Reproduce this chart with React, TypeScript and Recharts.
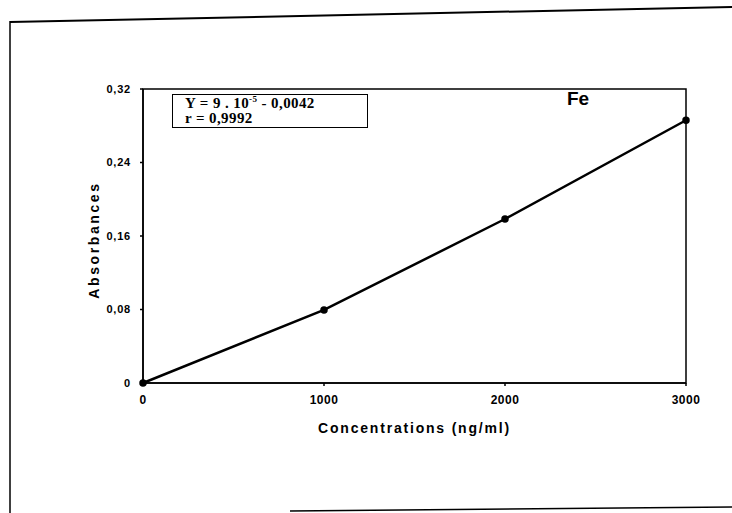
import { LineChart, Line, XAxis, YAxis, ReferenceArea, Label } from 'recharts';

// Fe calibration curve
const concentrations = [0, 1000, 2000, 3000];
const absorbances = [0, 0.0795, 0.1785, 0.286];
const xTicks = [0, 1000, 2000, 3000];
const yTicks = [0, 0.08, 0.16, 0.24, 0.32];

const data = concentrations.map((c, i) => ({ conc: c, abs: absorbances[i] }));

const font = 'Arial, "Liberation Sans", sans-serif';

const fmtY = (v: number) => (v === 0 ? '0' : v.toFixed(2).replace('.', ','));

export default function App() {
  return (
    <div style={{ position: 'absolute', left: 0, top: 0, width: 732, height: 513, background: '#fff', overflow: 'hidden' }}>
      {/* scanned page frame */}
      <svg width={732} height={513} style={{ position: 'absolute', left: 0, top: 0 }}>
        <line x1={10} y1={22} x2={732} y2={7} stroke="#000" strokeWidth={2} />
        <line x1={10} y1={21} x2={10} y2={513} stroke="#000" strokeWidth={1.5} />
        <line x1={290} y1={511} x2={732} y2={507} stroke="#000" strokeWidth={1.5} />
      </svg>
      <LineChart
        width={732}
        height={513}
        data={data}
        margin={{ top: 89, right: 46, bottom: 100, left: 83 }}
        style={{ position: 'absolute', left: 0, top: 0 }}
      >
        <XAxis
          dataKey="conc"
          type="number"
          domain={[0, 3000]}
          ticks={xTicks}
          height={30}
          tickSize={3}
          stroke="#000"
          strokeWidth={1.5}
          tick={{ fill: '#000', fontSize: 12, fontWeight: 700, fontFamily: font, letterSpacing: 0.5 }}
          tickMargin={9}
        >
          <Label
            value="Concentrations (ng/ml)"
            position="bottom"
            offset={10}
            style={{ fill: '#000', fontSize: 14, fontWeight: 700, fontFamily: font, letterSpacing: 1.8 }}
          />
        </XAxis>
        <YAxis
          type="number"
          domain={[0, 0.32]}
          ticks={yTicks}
          width={60}
          tickSize={3}
          stroke="#000"
          strokeWidth={1.5}
          tickFormatter={fmtY}
          tick={{ fill: '#000', fontSize: 11, fontWeight: 700, fontFamily: font, letterSpacing: 0.8 }}
          tickMargin={9}
        >
          <Label
            value="Absorbances"
            angle={-90}
            position="insideLeft"
            offset={11}
            dy={4}
            style={{ fill: '#000', fontSize: 14, fontWeight: 700, fontFamily: font, letterSpacing: 2.6, textAnchor: 'middle' }}
          />
        </YAxis>
        <ReferenceArea x1={0} x2={3000} y1={0} y2={0.32} fill="none" stroke="#000" strokeWidth={1.5} />
        <Line
          dataKey="abs"
          stroke="#000"
          strokeWidth={2.5}
          dot={{ r: 2.5, fill: '#000', stroke: '#000' }}
          isAnimationActive={false}
        />
      </LineChart>
      <div
        style={{
          position: 'absolute',
          left: 172,
          top: 94,
          width: 196,
          height: 34,
          border: '1.5px solid #000',
          fontFamily: '"Liberation Serif", "Times New Roman", serif',
          fontWeight: 700,
          fontSize: 15,
          lineHeight: '15px',
          paddingLeft: 12,
          paddingTop: 1,
          letterSpacing: 0.4,
          boxSizing: 'border-box',
          background: '#fff',
          whiteSpace: 'nowrap',
        }}
      >
        <div>
          Y = 9 . 10<sup style={{ fontSize: 9, lineHeight: 0 }}>-5</sup> - 0,0042
        </div>
        <div>r = 0,9992</div>
      </div>
      <div
        style={{
          position: 'absolute',
          left: 567,
          top: 88,
          fontFamily: font,
          fontWeight: 700,
          fontSize: 19,
        }}
      >
        Fe
      </div>
    </div>
  );
}
